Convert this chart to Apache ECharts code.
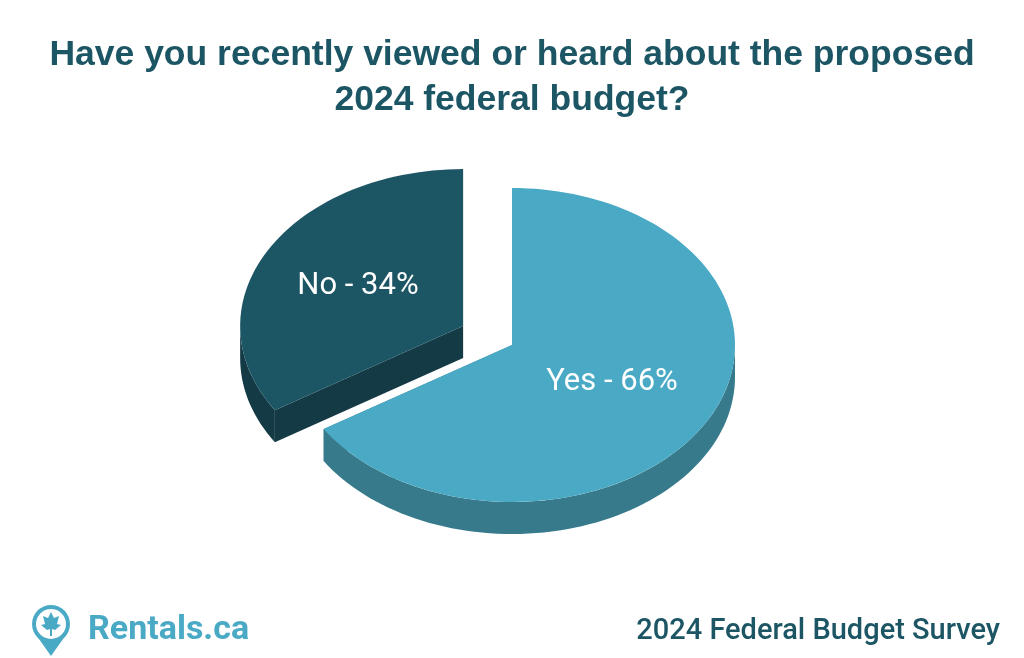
<!DOCTYPE html>
<html><head><meta charset="utf-8">
<script src="https://cdn.jsdelivr.net/npm/echarts@6/dist/echarts.min.js"></script>
<style>html,body{margin:0;padding:0;background:#fff}#c{width:1024px;height:658px}</style>
</head><body><div id="c"></div>
<script>
const categories = ['Yes', 'No'];
const values = [66, 34];
const topColors = ['#4aaac6', '#1c5564'];
const sideColors = ['#367a8c', '#143a45'];
const explode = [0, 0.25];

const chart = echarts.init(document.getElementById('c'));
const total = values.reduce((a, b) => a + b, 0);
const CX = 512, CY = 345, RX = 223, RY = 157, DEPTH = 32;
const starts = []; let acc = 0;
values.forEach(v => { starts.push(acc / total * 360); acc += v; });

function pt(cx, cy, deg, dz) {
  const r = deg * Math.PI / 180;
  return [cx + RX * Math.sin(r), cy - RY * Math.cos(r) + (dz || 0)];
}
function arcPts(cx, cy, a0, a1, dz) {
  const n = Math.max(4, Math.ceil(Math.abs(a1 - a0) / 2));
  const p = [];
  for (let i = 0; i <= n; i++) p.push(pt(cx, cy, a0 + (a1 - a0) * i / n, dz));
  return p;
}

function renderSlice(i) {
  const a0 = starts[i], a1 = a0 + values[i] / total * 360;
  const mid = (a0 + a1) / 2 * Math.PI / 180;
  const k = explode[i];
  const cx = CX + RX * k * Math.sin(mid), cy = CY - RY * k * Math.cos(mid);
  const children = [];
  [a0, a1].forEach(a => {
    const e = pt(cx, cy, a);
    children.push({ type: 'polygon', shape: { points: [[cx, cy], e, [e[0], e[1] + DEPTH], [cx, cy + DEPTH]] },
      style: { fill: sideColors[i] } });
  });
  const s0 = Math.max(a0, 90), s1 = Math.min(a1, 270);
  if (s1 > s0) {
    const top = arcPts(cx, cy, s0, s1, 0);
    const bot = arcPts(cx, cy, s1, s0, DEPTH);
    children.push({ type: 'polygon', shape: { points: top.concat(bot) }, style: { fill: sideColors[i] } });
  }
  children.push({ type: 'polygon', shape: { points: [[cx, cy]].concat(arcPts(cx, cy, a0, a1, 0)) },
    style: { fill: topColors[i] } });
  const lp = i === 0 ? [612, 382] : [358, 286];
  children.push({ type: 'text', x: lp[0], y: lp[1], style: {
    text: categories[i] + ' - ' + values[i] + '%', fill: '#fff', font: '31px Roboto',
    align: 'center', verticalAlign: 'middle' } });
  return { type: 'group', children };
}

chart.setOption({
  animation: false,
  title: {
    text: 'Have you recently viewed or heard about the proposed\n2024 federal budget?',
    left: 'center', top: 28,
    textStyle: { fontFamily: 'Liberation Sans', fontWeight: 'bold', fontSize: 35.5, color: '#1c5564', lineHeight: 45 }
  },
  series: [{
    type: 'custom', coordinateSystem: 'none',
    data: [[1], [0]],
    renderItem: function (params, api) { return renderSlice(api.value(0)); }
  }],
  graphic: [
    { type: 'polygon', shape: { points: [[34, 632], [68, 632], [51, 656]] }, style: { fill: '#4aaac6' } },
    { type: 'circle', shape: { cx: 51, cy: 624, r: 19 }, style: { fill: '#4aaac6' } },
    { type: 'circle', shape: { cx: 51, cy: 624, r: 15 }, style: { fill: '#fff' } },
    { type: 'polygon', shape: { points: [[51, 612], [54, 618], [59, 616], [57, 624], [61, 625], [55, 630], [52, 629], [52, 636], [50, 636], [50, 629], [47, 630], [41, 625], [45, 624], [43, 616], [48, 618]] }, style: { fill: '#4aaac6' } },
    { type: 'text', x: 88, y: 630, style: { text: 'Rentals.ca', font: 'bold 34px Roboto', fill: '#4aaac6', verticalAlign: 'middle' } },
    { type: 'text', x: 1000, y: 632, style: { text: '2024 Federal Budget Survey', font: '500 29px Roboto', fill: '#1c5564', align: 'right', verticalAlign: 'middle' } }
  ]
});
</script></body></html>
